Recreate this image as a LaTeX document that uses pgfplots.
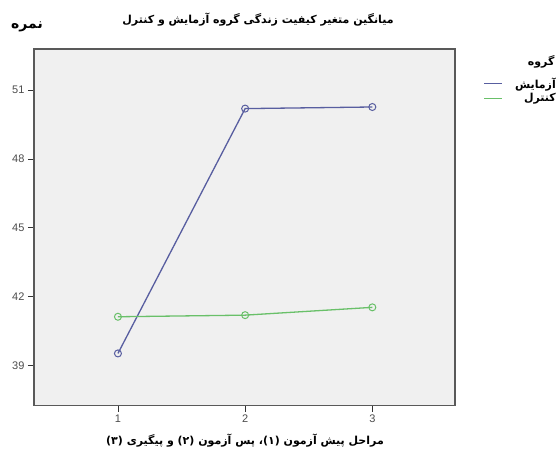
\documentclass[border=0pt]{standalone}
\usepackage{pgfplots}
\pgfplotsset{compat=1.18}
\usepackage{fontspec}
\setmainfont{Liberation Sans}
\newfontfamily\fa[Script=Arabic]{DejaVu Sans}
\TeXXeTstate=1

\definecolor{azm}{RGB}{88,94,160}
\definecolor{knt}{RGB}{105,192,105}
\definecolor{bgc}{RGB}{240,240,240}

\begin{document}
\begin{tikzpicture}
\useasboundingbox (0pt,0pt) rectangle (560pt,450pt);
\begin{axis}[
  scale only axis, width=421pt, height=356.7pt,
  at={(34pt,44.3pt)}, anchor=south west,
  xmin=0.34, xmax=3.65, ymin=37.24, ymax=52.8,
  xtick={1,2,3}, ytick={39,42,45,48,51},
  axis background/.style={fill=bgc},
  axis line style={draw=black!65, line width=1.2pt},
  tick style={draw=black!80, line width=0.8pt},
  tick align=outside, major tick length=6pt,
  xtick pos=bottom, ytick pos=left,
  tick label style={font=\fontsize{11}{13}\selectfont, text=black!70},
  /pgf/number format/assume math mode=true,
  clip=false,
  legend style={at={(1.2447,0.926)}, anchor=north east, draw=none, fill=none,
    font=\fa\bfseries\fontsize{11}{12}\selectfont, inner sep=0pt,
    row sep=0pt},
  legend cell align=right,
  legend image code/.code={\draw[#1, line width=1.2pt] (0pt,0pt) -- (18pt,0pt);
    \path (28pt,0pt);},
  every axis plot/.append style={line width=1.3pt, mark=o, mark size=3.5pt,
    mark options={line width=1pt}},
]
\addplot[color=azm] coordinates {(1,39.52) (2,50.20) (3,50.27)};
\addlegendentry{\beginR آزمایش\endR}
\addplot[color=knt] coordinates {(1,41.12) (2,41.19) (3,41.53)};
\addlegendentry{\beginR کنترل\endR}
\end{axis}
\node[font=\fa\bfseries\fontsize{11}{13}\selectfont] at (258pt,430pt)
  {\beginR میانگین متغیر کیفیت زندگی گروه آزمایش و کنترل\endR};
\node[font=\fa\bfseries\fontsize{14}{16}\selectfont] at (27pt,423pt)
  {\beginR نمره\endR};
\node[font=\fa\bfseries\fontsize{11}{12}\selectfont, anchor=east] at (558pt,388pt)
  {\beginR گروه\endR};
\node[font=\fa\bfseries\fontsize{11}{13}\selectfont] at (245pt,9pt)
  {\beginR مراحل پیش آزمون (۱)، پس آزمون (۲) و پیگیری (۳)\endR};
\end{tikzpicture}
\end{document}
